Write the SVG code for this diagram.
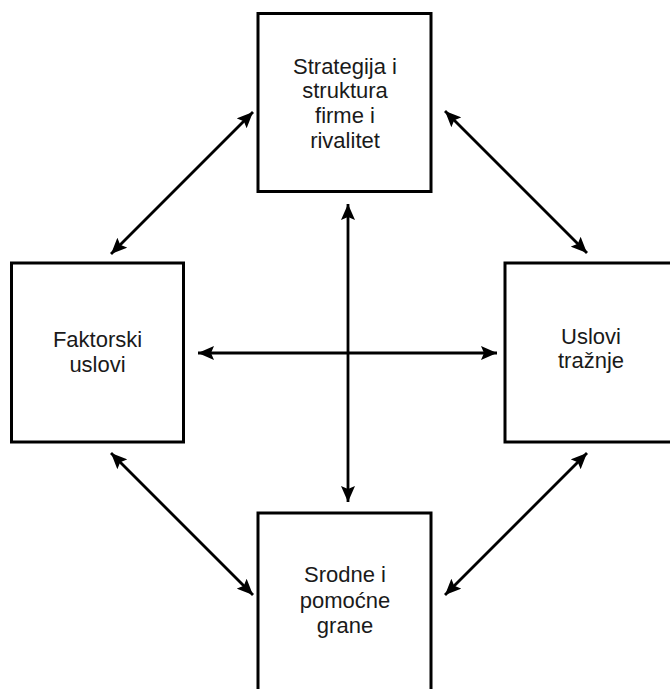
<svg xmlns="http://www.w3.org/2000/svg" width="670" height="689" viewBox="0 0 670 689">
  <style>
    .box { fill: #ffffff; stroke: #000000; stroke-width: 3; }
    .lbl { font-family: "Liberation Sans", Arial, sans-serif; font-size: 22px; fill: #1a1a1a; text-anchor: middle; }
    .link { stroke: #000000; stroke-width: 2.8; fill: none; marker-start: url(#head); marker-end: url(#head); }
  </style>
  <defs>
    <marker id="head" viewBox="0 0 16 14" refX="16" refY="7" markerWidth="16" markerHeight="14" markerUnits="userSpaceOnUse" orient="auto-start-reverse">
      <path d="M0,0 L16,7 L0,14 L3,7 Z" fill="#000000"/>
    </marker>
  </defs>
  <rect width="670" height="689" fill="#ffffff"/>

  <g id="strategija">
    <rect class="box" x="258" y="13.5" width="173" height="178"/>
    <text class="lbl" x="345" y="74">Strategija i</text>
    <text class="lbl" x="345" y="98">struktura</text>
    <text class="lbl" x="345" y="122.5">firme i</text>
    <text class="lbl" x="345" y="147.5">rivalitet</text>
  </g>

  <g id="faktorski">
    <rect class="box" x="11.5" y="263" width="172" height="179"/>
    <text class="lbl" x="97.5" y="347">Faktorski</text>
    <text class="lbl" x="97.5" y="372">uslovi</text>
  </g>

  <g id="traznja">
    <rect class="box" x="505" y="263" width="180" height="179"/>
    <text class="lbl" x="591" y="344">Uslovi</text>
    <text class="lbl" x="591" y="368">tražnje</text>
  </g>

  <g id="srodne">
    <rect class="box" x="258" y="513" width="173" height="190"/>
    <text class="lbl" x="345" y="582">Srodne i</text>
    <text class="lbl" x="345" y="608">pomoćne</text>
    <text class="lbl" x="345" y="633">grane</text>
  </g>

  <g id="connectors">
    <line class="link" x1="253" y1="112" x2="111" y2="254"/>
    <line class="link" x1="445" y1="111" x2="587" y2="253"/>
    <line class="link" x1="111" y1="453" x2="253" y2="595"/>
    <line class="link" x1="587" y1="453" x2="445" y2="595"/>
    <line class="link" x1="198" y1="353" x2="497" y2="353"/>
    <line class="link" x1="348" y1="204" x2="348" y2="502"/>
  </g>
</svg>
